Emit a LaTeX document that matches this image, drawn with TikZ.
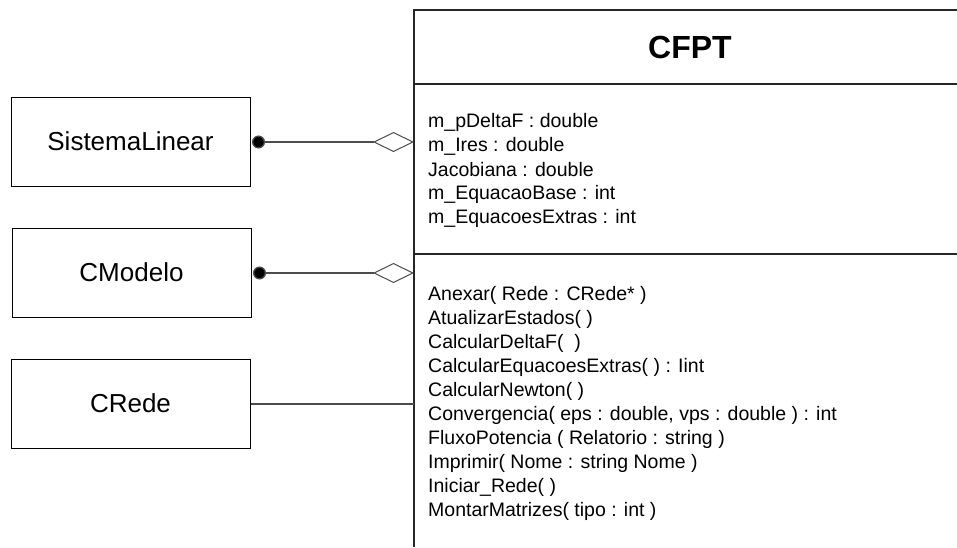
\documentclass[tikz,border=0pt]{standalone}
\usepackage{fontspec}
\setmainfont{Liberation Sans}
\usetikzlibrary{arrows.meta}
\begin{document}
\begin{tikzpicture}[x=1pt,y=-1pt,
  cls/.style={draw=black,line width=1pt,minimum width=239pt,minimum height=89pt,inner sep=0pt,font=\fontsize{26}{30}\selectfont},
  member/.style={anchor=west,inner sep=0pt,font=\fontsize{19.5}{23}\selectfont},
  boxline/.style={draw=black!85,line width=1.1pt},
  assoc/.style={draw=black!70,line width=1.3pt},
  agg/.style={assoc,{Circle[length=13pt,fill=black]}-{Diamond[open,length=41pt,width=20pt,line width=1pt,fill=white]}}
]
\useasboundingbox (0,0) rectangle (957,547);
% CFPT class (open on right and bottom)
\coordinate (tl) at (414,10);
\coordinate (tr) at (957,10);
\coordinate (bl) at (414,547);
\coordinate (h1l) at (414,84);
\coordinate (h1r) at (957,84);
\coordinate (h2l) at (414,254);
\coordinate (h2r) at (957,254);
\draw[boxline] (tr) -- (tl) -- (bl);
\draw[boxline] (h1l) -- (h1r);
\draw[boxline] (h2l) -- (h2r);
\node[font=\fontsize{32}{36}\selectfont\bfseries] (title) at (690,47) {CFPT};
% attributes
\node[member] (a1) at (428,122) {m\_pDeltaF : double};
\node[member] (a2) at (428,146) {m\_Ires : double};
\node[member] (a3) at (428,170) {Jacobiana : double};
\node[member] (a4) at (428,194) {m\_EquacaoBase : int};
\node[member] (a5) at (428,218) {m\_EquacoesExtras : int};
% methods
\node[member] (m1) at (428,295) {Anexar( Rede : CRede* )};
\node[member] (m2) at (428,319) {AtualizarEstados( )};
\node[member] (m3) at (428,343) {CalcularDeltaF(\ \ )};
\node[member] (m4) at (428,367) {CalcularEquacoesExtras( ) : Iint};
\node[member] (m5) at (428,391) {CalcularNewton( )};
\node[member] (m6) at (428,415) {Convergencia( eps : double, vps : double ) : int};
\node[member] (m7) at (428,439) {FluxoPotencia ( Relatorio : string )};
\node[member] (m8) at (428,463) {Imprimir( Nome : string Nome )};
\node[member] (m9) at (428,487) {Iniciar\_Rede( )};
\node[member] (m10) at (428,511) {MontarMatrizes( tipo : int )};
% other classes
\node[cls] (sl) at (130.5,141.5) {SistemaLinear};
\node[cls] (cm) at (131.5,272.5) {CModelo};
\node[cls] (cr) at (130.5,403.5) {CRede};
% connector endpoints on CFPT's left side
\coordinate (p1) at (414,142);
\coordinate (p2) at (414,273);
\coordinate (p3) at (414,404);
\draw[agg,shorten <=1.5pt] (sl.east |- p1) -- (p1);
\draw[agg,shorten <=1.5pt] (cm.east |- p2) -- (p2);
\draw[assoc,line width=1.1pt] (cr.east |- p3) -- (p3);
\end{tikzpicture}
\end{document}
